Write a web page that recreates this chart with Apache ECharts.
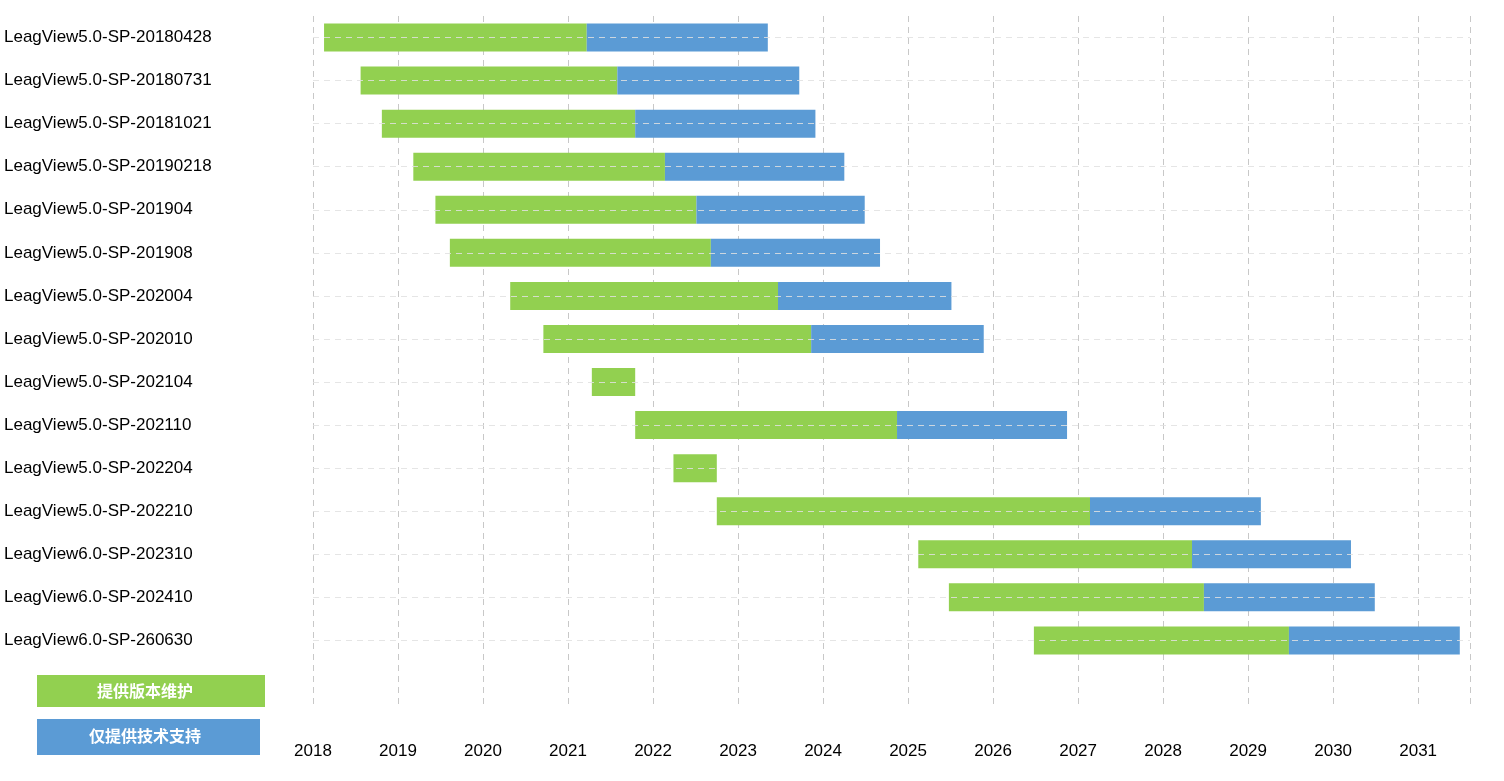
<!DOCTYPE html>
<html><head><meta charset="utf-8">
<script src="https://cdn.jsdelivr.net/npm/echarts@6/dist/echarts.min.js"></script>
<style>html,body{margin:0;padding:0}#c{width:1504px;height:781px}</style>
</head><body><div id="c"></div>
<script>
const categories = ["LeagView5.0-SP-20180428","LeagView5.0-SP-20180731","LeagView5.0-SP-20181021","LeagView5.0-SP-20190218","LeagView5.0-SP-201904","LeagView5.0-SP-201908","LeagView5.0-SP-202004","LeagView5.0-SP-202010","LeagView5.0-SP-202104","LeagView5.0-SP-202110","LeagView5.0-SP-202204","LeagView5.0-SP-202210","LeagView6.0-SP-202310","LeagView6.0-SP-202410","LeagView6.0-SP-260630"];
const maintStart = [2018.13,2018.56,2018.81,2019.18,2019.44,2019.61,2020.32,2020.71,2021.28,2021.79,2022.24,2022.75,2025.12,2025.48,2026.48];
const maintEnd   = [2021.22,2021.58,2021.79,2022.14,2022.51,2022.68,2023.47,2023.86,2021.79,2024.87,2022.75,2027.14,2028.34,2028.48,2029.48];
const supportEnd = [2023.35,2023.72,2023.91,2024.25,2024.49,2024.67,2025.51,2025.89,2021.79,2026.87,2022.75,2029.15,2030.21,2030.49,2031.49];
const legendNames = ["提供版本维护","仅提供技术支持"];

const cats = categories.concat([""]);
const base = maintStart.concat([null]);
const green = maintStart.map((s,i)=>+(maintEnd[i]-s).toFixed(2)).concat([null]);
const blue = maintEnd.map((e,i)=>+(supportEnd[i]-e).toFixed(2)).concat([null]);
const dash = {type:[6,5],color:'#d0d0d0',width:1};
const chart = echarts.init(document.getElementById('c'));
chart.setOption({
  animation:false,
  grid:{left:313,right:34,top:16,bottom:76},
  xAxis:{type:'value',min:2018,max:2031.61,interval:1,
    axisLine:{show:false},axisTick:{show:false},
    axisLabel:{color:'#000',fontSize:17,fontFamily:'Arial, Liberation Sans',margin:38,
      formatter:v=>Number.isInteger(v)?String(v):''},
    splitLine:{show:true,lineStyle:{type:[6,5],color:'#c8c8c8'}}},
  yAxis:{type:'category',data:cats,inverse:true,
    axisLine:{show:false},axisTick:{show:false},splitLine:{show:false},
    axisLabel:{color:'#000',fontSize:17,fontFamily:'Arial, Liberation Sans',align:'left',margin:309}},
  series:[
    {type:'bar',stack:'g',data:base,itemStyle:{color:'transparent'},barWidth:28,silent:true},
    {type:'bar',stack:'g',name:legendNames[0],data:green,itemStyle:{color:'#92d050'},barWidth:28},
    {type:'bar',stack:'g',name:legendNames[1],data:blue,itemStyle:{color:'#5b9bd5'},barWidth:28,
     markLine:{silent:true,symbol:'none',label:{show:false},z:5,
       lineStyle:{type:[6,5],color:'rgba(225,225,225,0.85)',width:1},
       data:categories.map(c=>({yAxis:c}))}}
  ],
  graphic:[
    {type:'rect',left:37,top:675,shape:{width:228,height:32},style:{fill:'#92d050'}},
    {type:'text',left:97,top:683,style:{text:legendNames[0],fill:'#fff',font:'bold 16px "Noto Sans CJK SC"'}},
    {type:'rect',left:37,top:719,shape:{width:223,height:36},style:{fill:'#5b9bd5'}},
    {type:'text',left:89,top:728,style:{text:legendNames[1],fill:'#fff',font:'bold 16px "Noto Sans CJK SC"'}}
  ]
});
</script></body></html>
